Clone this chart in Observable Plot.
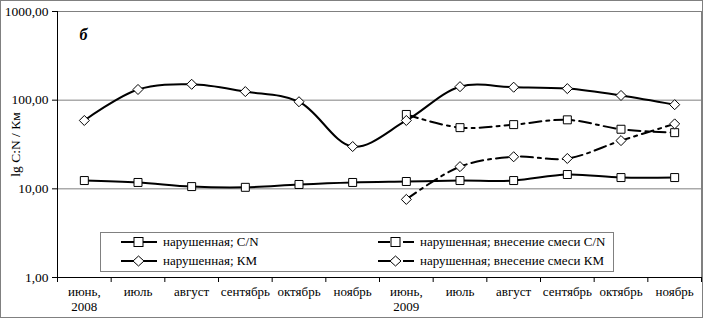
<!DOCTYPE html>
<html><head><meta charset="utf-8">
<script src="https://cdn.jsdelivr.net/npm/d3@7"></script>
<script src="https://cdn.jsdelivr.net/npm/@observablehq/plot@0.6"></script>
<style>
body{margin:0;background:#fff;font-family:"Liberation Serif","DejaVu Serif",serif}
svg, svg text, #legend, #legend span{font-family:"Liberation Serif","DejaVu Serif",serif !important}
#wrap{position:relative;width:703px;height:320px;overflow:hidden}
#border{position:absolute;left:0;top:0;width:701px;height:316px;border:1px solid #808080;pointer-events:none}
#legend{position:absolute;left:100px;top:232px;width:512px;height:38px;border:1px solid #808080;background:#fff;font-size:13px;color:#000}
.li{position:absolute;display:flex;align-items:center;white-space:nowrap}
.li svg{margin-right:5px}
</style></head><body>
<div id="wrap"><div id="chart"></div><div id="legend"></div><div id="border"></div></div>
<script>
const months = ["июнь,\n2008","июль","август","сентябрь","октябрь","ноябрь","июнь,\n2009","июль","август","сентябрь","октябрь","ноябрь"];
const cnDisturbed = [12.4,11.8,10.6,10.4,11.2,11.8,12.1,12.4,12.4,14.5,13.4,13.4];
const kmDisturbed = [59,132,151,125,96,30,59,142,140,135,113,89];
const cnMix = [null,null,null,null,null,null,69,49,53,60,47,43];
const kmMix = [null,null,null,null,null,null,7.6,17.8,23,22,35,54];
const yTicks = [1,10,100,1000];
const yTickLabels = ["1,00","10,00","100,00","1000,00"];
const seriesNames = ["нарушенная; C/N","нарушенная; внесение смеси C/N","нарушенная; КМ","нарушенная; внесение смеси КМ"];
const panelLabel = "б";
const yLabel = "lg C:N / Км";

const dash = "12,5,3,5";
const diamond = {draw(ctx, size){const h = Math.sqrt(size)*0.63; ctx.moveTo(0,-h); ctx.lineTo(h,0); ctx.lineTo(0,h); ctx.lineTo(-h,0); ctx.closePath();}};

function toData(arr){return arr.map((v,i)=>({x:i+0.5,y:v})).filter(d=>d.y!=null);}
const series = [
  {name:seriesNames[0], data:toData(cnDisturbed), symbol:"square", dash:null},
  {name:seriesNames[1], data:toData(cnMix), symbol:"square", dash:dash},
  {name:seriesNames[2], data:toData(kmDisturbed), symbol:diamond, dash:null},
  {name:seriesNames[3], data:toData(kmMix), symbol:diamond, dash:dash}
];

const marks = [
  Plot.frame({stroke:"#808080"}),
  Plot.ruleY([10,100], {stroke:"#808080", strokeWidth:1}),
  Plot.ruleX([0], {stroke:"#000"}),
  Plot.ruleY([1], {stroke:"#000"}),
  Plot.axisY({ticks:yTicks, tickFormat:d=>yTickLabels[yTicks.indexOf(d)], tickSize:5, tickPadding:4, fontSize:13.5, label:yLabel, labelAnchor:"center", labelArrow:"none", labelOffset:47}),
  Plot.axisX({ticks:d3.range(0,13), tickFormat:()=>"", tickSize:5, label:null}),
  Plot.axisX({ticks:d3.range(12).map(i=>i+0.5), tickFormat:d=>months[Math.floor(d)], tickSize:0, tickPadding:8, fontSize:13, label:null, lineHeight:1.15}),
  Plot.text([panelLabel], {frameAnchor:"top-left", dx:22, dy:17, fontSize:16, fontWeight:"bold", fontStyle:"italic", lineAnchor:"top"})
];
for (const s of series) {
  marks.push(Plot.line(s.data, {x:"x", y:"y", curve:"catmull-rom", stroke:"#000", strokeWidth:2, strokeDasharray:s.dash}));
}
for (const s of series) {
  marks.push(Plot.dot(s.data, {x:"x", y:"y", symbol:s.symbol, r:4.5, fill:"#fff", stroke:"#000", strokeWidth:1}));
}

const chart = Plot.plot({
  width:703, height:320,
  marginLeft:57, marginRight:2, marginTop:11, marginBottom:43,
  style:{fontFamily:"Liberation Serif, serif", fontSize:"13.5px", color:"#000", background:"#fff"},
  x:{type:"linear", domain:[0,12]},
  y:{type:"log", domain:[1,1000]},
  marks
});
chart.setAttribute("font-family","Liberation Serif, serif");
document.getElementById("chart").appendChild(chart);

// legend
const leg = document.getElementById("legend");
const pos = [[20,0],[277,0],[20,19],[277,19]];
series.forEach((s,i)=>{
  const div = document.createElement("div");
  div.className = "li";
  div.style.left = pos[i][0]+"px"; div.style.top = pos[i][1]+"px"; div.style.height="18px";
  const sym = s.symbol==="square"
    ? '<rect x="13" y="4.5" width="9" height="9" fill="#fff" stroke="#000"/>'
    : '<path d="M17.5,4 L23,9 L17.5,14 L12,9 Z" fill="#fff" stroke="#000"/>';
  const line = s.dash
    ? '<line x1="0" y1="9" x2="36" y2="9" stroke="#000" stroke-width="2" stroke-dasharray="12,5,3,5"/>'
    : '<line x1="0" y1="9" x2="36" y2="9" stroke="#000" stroke-width="2"/>';
  div.innerHTML = '<svg width="37" height="18">'+line+sym+'</svg><span>'+s.name+'</span>';
  leg.appendChild(div);
});
</script>
</body></html>
